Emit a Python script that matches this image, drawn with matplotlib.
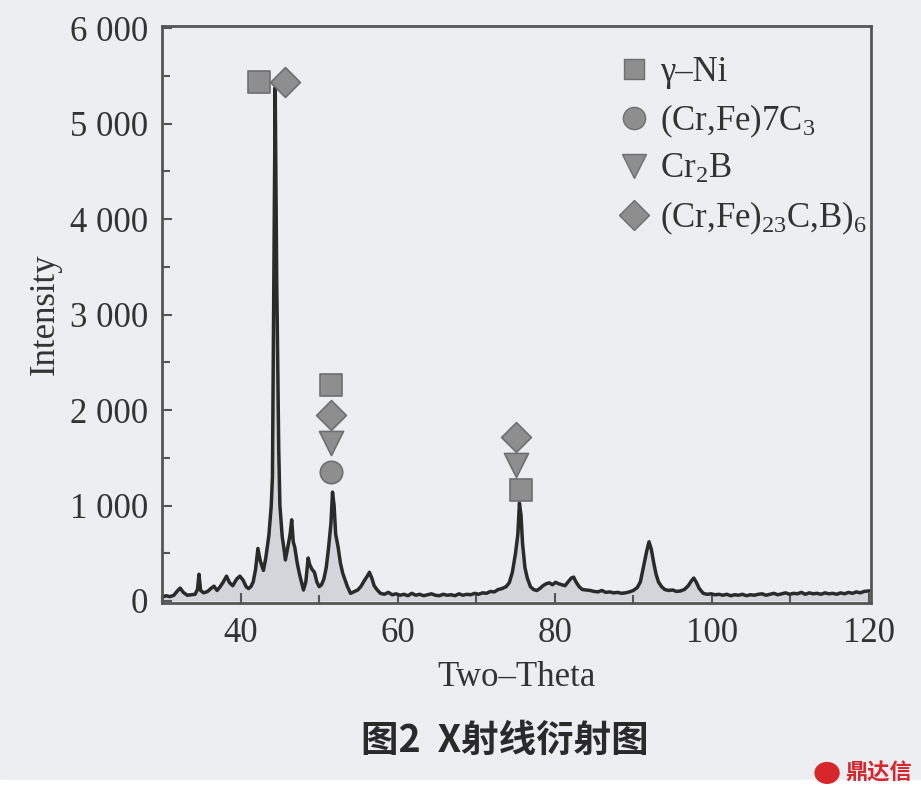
import matplotlib
matplotlib.use("Agg")
import matplotlib.pyplot as plt
from matplotlib.lines import Line2D
from matplotlib.patches import Rectangle, Circle
from matplotlib.ticker import FuncFormatter, MultipleLocator

plt.rcParams['font.family'] = ['Liberation Serif', 'DejaVu Serif']
plt.rcParams['mathtext.default'] = 'regular'

# XRD pattern (2-theta, intensity)
two_theta = [
    30.0, 30.5, 31.0, 31.5, 32.0, 32.3, 32.7, 33.2, 33.7, 34.2, 34.5, 34.7, 34.9, 35.3, 35.8,
    36.2, 36.6, 37.0, 37.4, 37.8, 38.2, 38.6, 39.0, 39.5, 39.9, 40.3, 40.7, 41.0, 41.3, 41.6,
    41.9, 42.2, 42.5, 42.9, 43.2, 43.6, 43.9, 44.05, 44.4, 44.6, 44.65, 44.85, 45.0, 45.3, 45.5,
    45.7, 46.0, 46.3, 46.5, 46.7, 46.9, 47.2, 47.5, 47.8, 48.0, 48.3, 48.6, 48.8, 49.1, 49.4,
    49.7, 50.0, 50.3, 50.6, 50.9, 51.2, 51.5, 51.7, 51.9, 52.1, 52.4, 52.7, 53.0, 53.3, 53.6,
    54.0, 54.4, 54.9, 55.3, 55.8, 56.2, 56.4, 56.7, 57.0, 57.4, 57.8, 58.3, 58.8, 59.3, 59.8,
    60.3, 60.8, 61.3, 61.8, 62.3, 62.8, 63.3, 63.8, 64.3, 64.8, 65.3, 65.8, 66.3, 66.8, 67.3,
    67.8, 68.3, 68.8, 69.3, 69.8, 70.3, 70.8, 71.3, 71.8, 72.3, 72.8, 73.3, 73.8, 74.2, 74.6,
    75.0, 75.3, 75.5, 75.7, 75.9, 76.2, 76.5, 76.9, 77.3, 77.7, 78.1, 78.5, 78.9, 79.3, 79.7,
    80.1, 80.5, 80.9, 81.3, 81.7, 82.1, 82.4, 82.7, 83.1, 83.5, 84.0, 84.5, 85.0, 85.5, 86.0,
    86.5, 87.0, 87.5, 88.0, 88.5, 89.0, 89.5, 90.0, 90.5, 90.9, 91.3, 91.7, 92.0, 92.3, 92.6,
    92.9, 93.2, 93.6, 94.0, 94.5, 95.0, 95.5, 96.0, 96.5, 97.0, 97.4, 97.7, 98.0, 98.4, 98.9,
    99.4, 99.9, 100.4, 100.9, 101.4, 101.9, 102.4, 102.9, 103.4, 103.9, 104.4, 104.9, 105.4, 105.9, 106.4,
    106.9, 107.4, 107.9, 108.4, 108.9, 109.4, 109.9, 110.4, 110.9, 111.4, 111.9, 112.4, 112.9, 113.4, 113.9,
    114.4, 114.9, 115.4, 115.9, 116.4, 116.9, 117.4, 117.9, 118.4, 118.9, 119.4, 120.0,
]
intensity = [
    40, 55, 45, 60, 110, 135, 90, 60, 65, 70, 120, 280, 110, 85, 100,
    130, 155, 110, 150, 200, 260, 190, 160, 230, 260, 220, 150, 130, 150, 200,
    330, 550, 420, 320, 450, 690, 1000, 1300, 5380, 3300, 3000, 1600, 1000, 670, 560,
    430, 560, 700, 850, 620, 560, 400, 280, 180, 115, 200, 450, 380, 330, 300,
    200, 150, 170, 230, 350, 560, 815, 1140, 1000, 700, 570, 400, 290, 220, 150,
    80, 95, 115, 150, 220, 270, 300, 240, 160, 115, 80, 70, 90, 65, 75,
    60, 70, 55, 80, 60, 70, 55, 65, 75, 60, 55, 70, 60, 65, 55,
    75, 60, 70, 65, 80, 70, 85, 80, 100, 95, 120, 130, 150, 190, 300,
    500, 700, 1025, 900, 600, 350, 240, 150, 120, 110, 130, 160, 180, 190, 170,
    195, 180, 170, 160, 200, 240, 250, 200, 150, 120, 115, 110, 100, 95, 110,
    90, 95, 85, 90, 80, 85, 95, 110, 140, 200, 360, 520, 620, 540, 400,
    280, 200, 150, 120, 110, 115, 100, 105, 120, 160, 210, 240, 200, 130, 80,
    70, 75, 65, 70, 60, 70, 55, 65, 60, 70, 55, 65, 60, 70, 75,
    60, 70, 80, 65, 75, 85, 70, 80, 75, 90, 70, 85, 75, 80, 70,
    85, 75, 80, 70, 85, 75, 90, 80, 95, 85, 100, 105,
]

# phase marker positions (2-theta, height)
ni_x = [42.3, 51.5, 75.7]
ni_y = [5435, 2262, 1162]
carb7_x = [51.5]
carb7_y = [1351]
cr2b_x = [51.5, 75.0]
cr2b_y = [1654, 1424]
carb23_x = [45.7, 51.5, 75.0]
carb23_y = [5435, 1948, 1717]

bg = '#eceef2'
mk_face = '#8e8e8e'
mk_edge = '#6e6e6e'
ink = '#333333'

fig = plt.figure(figsize=(9.21, 7.96), dpi=100)
fig.patch.set_facecolor(bg)
ax = fig.add_axes([0.176, 0.2425, 0.770, 0.7245])
ax.set_facecolor(bg)

ax.fill_between(two_theta, 0, intensity, color='#d3d5da', lw=0)
ax.plot(two_theta, intensity, color='#2a2a2a', lw=2.5)

ax.scatter(ni_x, ni_y, marker='s', s=230, c=mk_face, edgecolors=mk_edge, linewidths=1.2, zorder=3)
ax.scatter(carb7_x, carb7_y, marker='o', s=260, c=mk_face, edgecolors=mk_edge, linewidths=1.2, zorder=3)
ax.scatter(cr2b_x, cr2b_y, marker='v', s=300, c=mk_face, edgecolors=mk_edge, linewidths=1.2, zorder=3)
ax.scatter(carb23_x, carb23_y, marker='D', s=230, c=mk_face, edgecolors=mk_edge, linewidths=1.2, zorder=3)

ax.set_xlim(30, 120.3)
ax.set_ylim(-21, 6021)
ax.xaxis.set_minor_locator(MultipleLocator(10))
ax.set_xticks([40, 60, 80, 100, 120])
ax.yaxis.set_major_locator(MultipleLocator(1000))
ax.yaxis.set_minor_locator(MultipleLocator(500))
ax.yaxis.set_major_formatter(FuncFormatter(lambda v, p: f'{int(v):,}'.replace(',', ' ')))
ax.tick_params(which='both', direction='in', color='#555555', width=1.5, labelsize=25,
               labelcolor=ink, top=False, right=False)
ax.tick_params(which='major', length=7, pad=10)
ax.tick_params(which='minor', length=6)
for s in ax.spines.values():
    s.set_color('#555555')
    s.set_linewidth(2)

ax.set_xlabel('Two–Theta', fontsize=25, color=ink, labelpad=8)
ax.set_ylabel('Intensity', fontsize=25, color=ink, labelpad=6)

handles = [
    Line2D([], [], ls='none', marker='s', ms=15, mfc=mk_face, mec=mk_edge),
    Line2D([], [], ls='none', marker='o', ms=16, mfc=mk_face, mec=mk_edge),
    Line2D([], [], ls='none', marker='v', ms=17, mfc=mk_face, mec=mk_edge),
    Line2D([], [], ls='none', marker='D', ms=15, mfc=mk_face, mec=mk_edge),
]
labels = ['γ–Ni', '(Cr,Fe)7C$_3$', 'Cr$_2$B', '(Cr,Fe)$_{23}$C,B)$_6$']
leg = ax.legend(handles, labels, loc='upper left', bbox_to_anchor=(0.607, 0.99), frameon=False,
                fontsize=25, handlelength=1.0, handletextpad=0.25, labelspacing=0.38,
                borderaxespad=0.3)
for t in leg.get_texts():
    t.set_color(ink)

fig.text(0.548, 0.07, '图2  X射线衍射图', fontsize=27, fontweight='bold', color='#2a2a2a',
         ha='center', va='center', family=['Noto Sans CJK SC', 'DejaVu Sans'])

# bottom white strip and watermark
fig.patches.append(Rectangle((0, 0), 1, 0.02, transform=fig.transFigure, color='white', zorder=0))
fig.patches.append(Circle((0.898, 0.029), 0.013, transform=fig.transFigure, color='#d7262c'))
fig.text(0.99, 0.029, '鼎达信', fontsize=16, fontweight='bold', color='#d7262c',
         ha='right', va='center', family=['Noto Sans CJK SC', 'DejaVu Sans'])

fig.savefig('out.png', dpi=100, facecolor=fig.get_facecolor())
